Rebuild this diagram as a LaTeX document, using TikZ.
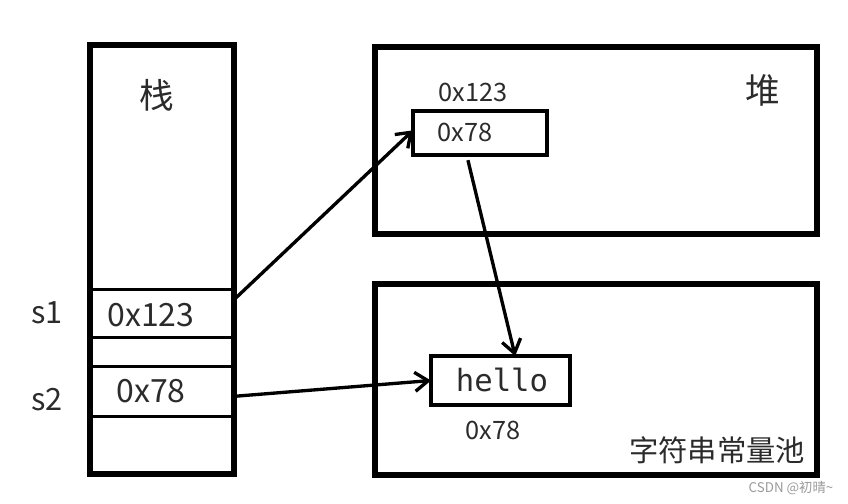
\documentclass[tikz,border=0pt]{standalone}
\usepackage{fontspec}
\setmainfont{Noto Sans CJK SC}
\newfontfamily\monofont{DejaVu Sans Mono}
\usetikzlibrary{arrows.meta}
\definecolor{TextGray}{HTML}{2B2B2B}
\definecolor{MarkGray}{HTML}{9A9A9A}

\begin{document}
\begin{tikzpicture}[x=0.75pt,y=-0.75pt,
  area/.style={draw, line width=4.5pt, inner sep=0pt, outer sep=0pt},
  cell/.style={draw, line width=2.25pt, minimum width=108pt, inner sep=0pt, outer sep=0pt},
  slot/.style={draw, line width=3pt, inner sep=0pt, outer sep=0pt},
  txt/.style={text=TextGray, inner sep=0pt},
  arr/.style={-{Straight Barb[length=3.5mm, width=5mm, line width=2.5pt]}, line width=2.5pt}
]
\useasboundingbox (0,0) rectangle (848,503);
% stack cells
\node[cell, minimum height=36pt] (c1) at (162,313) {};
\node[cell, minimum height=37.5pt] (c2) at (162,391) {};
% areas
\node[area, minimum width=108pt, minimum height=321.75pt] (stack) at (162,259.5) {};
\node[area, minimum width=331.5pt, minimum height=140.25pt] (heap) at (596,140.5) {};
\node[area, minimum width=331.5pt, minimum height=143.25pt] (pool) at (596,379.5) {};
\node[slot, minimum width=100.5pt, minimum height=33pt] (hb) at (480,133) {};
\node[slot, minimum width=104.25pt, minimum height=36.75pt] (str) at (500.5,380.5) {};
% labels
\node[txt, font=\fontsize{26pt}{26pt}\selectfont] (tstack) at (157,95) {栈};
\node[txt, font=\fontsize{26pt}{26pt}\selectfont] (theap) at (763,90) {堆};
\node[txt, font=\fontsize{22pt}{22pt}\selectfont] (tpool) at (717,450) {字符串常量池};
\node[txt, font=\fontsize{23pt}{23pt}\selectfont] (ts1) at (47,313) {s1};
\node[txt, font=\fontsize{23pt}{23pt}\selectfont] (ts2) at (47,400) {s2};
\node[txt, font=\fontsize{24pt}{24pt}\selectfont] (v1) at (151,315) {0x123};
\node[txt, font=\fontsize{24pt}{24pt}\selectfont] (v2) at (151,391) {0x78};
\node[txt, font=\fontsize{19pt}{19pt}\selectfont] (haddr) at (473,92) {0x123};
\node[txt, font=\fontsize{19pt}{19pt}\selectfont] (hval) at (465,132) {0x78};
\node[txt, font=\monofont\fontsize{23pt}{23pt}\selectfont] (hello) at (502,380) {hello};
\node[txt, font=\fontsize{19pt}{19pt}\selectfont] (saddr) at (493,430) {0x78};
\node[text=MarkGray, inner sep=0pt, font=\fontsize{10pt}{10pt}\selectfont] (mark) at (791,488) {CSDN @初晴\textasciitilde};
% references
\draw[arr] ([yshift=10pt]c1.east) -- ([yshift=2pt]hb.west);
\draw[arr] ([yshift=-4pt]c2.east) -- (str.west);
\draw[arr, shorten <=4pt] ([xshift=-10pt]hb.south) -- ([xshift=11pt]str.north);
\end{tikzpicture}
\end{document}
